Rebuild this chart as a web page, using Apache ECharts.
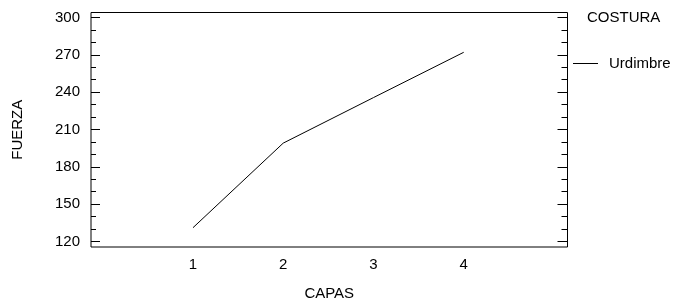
<!DOCTYPE html>
<html><head><meta charset="utf-8">
<script src="https://cdn.jsdelivr.net/npm/echarts@6/dist/echarts.min.js"></script>
<style>html,body{margin:0;padding:0;background:#fff}#c{width:674px;height:302px}</style>
</head><body><div id="c"></div>
<script>
const capas = [1, 2, 3, 4];
const fuerza = [131, 199, 235.6, 272];
const yMajor = [120, 150, 180, 210, 240, 270, 300];
const yMinor = [130, 140, 160, 170, 190, 200, 220, 230, 250, 260, 280, 290];
const xLabels = [1, 2, 3, 4];
const seriesName = 'Urdimbre';
const legendTitle = 'COSTURA';

const font = 'Liberation Sans, Arial, sans-serif';
const fs = 15;
const yMin = 115.5, yMax = 304;
function yAx(pos, ticks, len, labels) {
  return {
    type: 'value', position: pos, min: yMin, max: yMax,
    axisLine: {show: false, onZero: false},
    splitLine: {show: false},
    axisTick: {show: true, inside: true, length: len, customValues: ticks, lineStyle: {color: '#000', width: 1}},
    axisLabel: labels ? {show: true, customValues: ticks, color: '#000', fontSize: fs, fontFamily: font, margin: 11} : {show: false},
    name: labels ? 'FUERZA' : '', nameLocation: 'middle', nameGap: 66, nameRotate: 90,
    nameTextStyle: {color: '#000', fontSize: fs, fontFamily: font}
  };
}
const chart = echarts.init(document.getElementById('c'), null, {renderer: 'canvas'});
chart.setOption({
  animation: false,
  backgroundColor: '#fff',
  grid: {left: 91, right: 106.5, top: 12.5, bottom: 55, outerBoundsMode: 'none', show: true, borderColor: '#000', borderWidth: 1, backgroundColor: 'transparent', containLabel: false},
  title: {text: legendTitle, left: 587, top: 10, padding: 0, textStyle: {color: '#000', fontSize: fs, fontWeight: 'normal', fontFamily: font}},
  legend: {
    left: 573, top: 56, padding: 0, itemWidth: 25, itemHeight: 1, icon: 'rect',
    data: [seriesName],
    itemStyle: {color: '#000', borderWidth: 0},
    textStyle: {color: '#000', fontSize: fs, fontFamily: font, padding: [0, 0, 0, 6]}
  },
  xAxis: {
    type: 'value', min: -0.13, max: 5.15,
    axisLine: {show: false, onZero: false}, splitLine: {show: false},
    axisTick: {show: false},
    axisLabel: {show: true, customValues: xLabels, color: '#000', fontSize: fs, fontFamily: font, margin: 10},
    name: 'CAPAS', nameLocation: 'middle', nameGap: 39,
    nameTextStyle: {color: '#000', fontSize: fs, fontFamily: font}
  },
  yAxis: [
    yAx('left', yMajor, 9, true),
    yAx('left', yMinor, 5, false),
    yAx('right', yMajor, 10, false),
    yAx('right', yMinor, 6, false)
  ],
  series: [{
    name: seriesName, type: 'line', symbol: 'none',
    data: capas.map((c, i) => [c, fuerza[i]]),
    lineStyle: {color: '#000', width: 1}, itemStyle: {color: '#000'}
  }]
});
</script></body></html>
